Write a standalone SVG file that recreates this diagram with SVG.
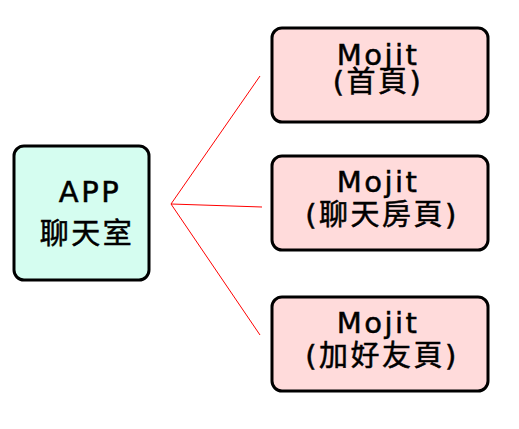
<svg xmlns="http://www.w3.org/2000/svg" width="519" height="429" viewBox="0 0 519 429">
<style>
.node rect{stroke:#000;stroke-width:3}
.app{fill:#d5fdf0}
.moj{fill:#ffdbdb}
text{font-family:"DejaVu Sans","Noto Sans CJK TC",sans-serif;font-size:29px;letter-spacing:2.5px;fill:#000;stroke:#000;stroke-width:0.5;text-anchor:middle}
.conn line{stroke:#ff0000;stroke-width:1}
</style>
<rect width="519" height="429" fill="#fff"/>
<g id="connectors" class="conn">
<line x1="171" y1="204" x2="260" y2="76"/>
<line x1="171" y1="204" x2="262" y2="207"/>
<line x1="171" y1="204" x2="260" y2="335"/>
</g>
<g id="app" class="node">
<rect class="app" x="14" y="146" width="135" height="134" rx="10"/>
<text x="90" y="202">APP</text>
<text x="87" y="244">聊天室</text>
</g>
<g id="mojit1" class="node">
<rect class="moj" x="272" y="28" width="216" height="94" rx="10"/>
<text x="378" y="65">Mojit</text>
<text x="378" y="92">(首頁)</text>
</g>
<g id="mojit2" class="node">
<rect class="moj" x="272" y="156" width="216" height="94" rx="10"/>
<text x="378" y="192">Mojit</text>
<text x="382" y="225">(聊天房頁)</text>
</g>
<g id="mojit3" class="node">
<rect class="moj" x="272" y="297" width="216" height="94" rx="10"/>
<text x="378" y="333">Mojit</text>
<text x="382" y="366">(加好友頁)</text>
</g>
</svg>
